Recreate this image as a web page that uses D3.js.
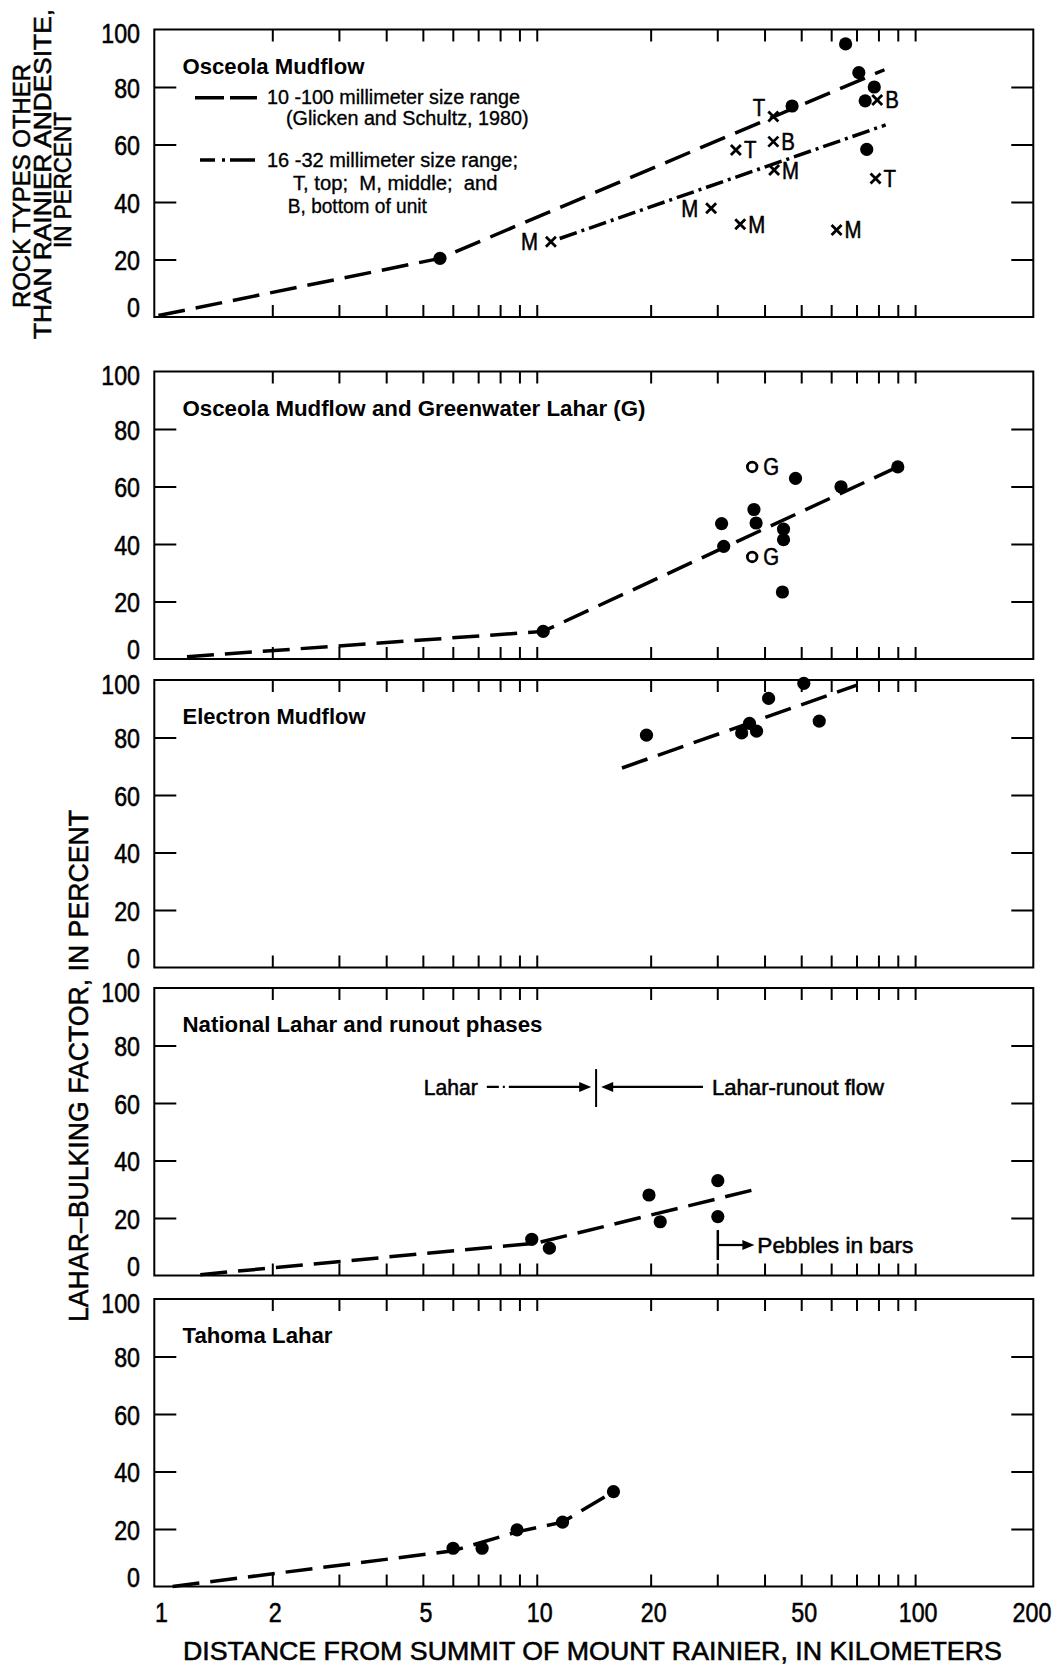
<!DOCTYPE html>
<html><head><meta charset="utf-8">
<script src="https://cdn.jsdelivr.net/npm/d3@7"></script>
<style>
body{margin:0;background:#fff}
svg{display:block}
text{font-family:"Liberation Sans",Arial,Helvetica,sans-serif;fill:#000;white-space:pre}
text.heavy{stroke:#000;stroke-width:0.55px}
</style>
</head><body>
<svg id="chart" width="1062" height="1667"></svg>
<script>
// ---------------- DATA ----------------
const xLabelValues = [1, 2, 5, 10, 20, 50, 100, 200];
const xMinorTickValues = [2,3,4,5,6,7,8,9,10,20,30,40,50,60,70,80,90,100];
const yLabelValues = [0, 20, 40, 60, 80, 100];
const yInnerTickValues = [20, 40, 60, 80];
const panelTitles = ["Osceola Mudflow", "Osceola Mudflow and Greenwater Lahar (G)", "Electron Mudflow", "National Lahar and runout phases", "Tahoma Lahar"];
const xTitle = "DISTANCE FROM SUMMIT OF MOUNT RAINIER, IN KILOMETERS";
const yTitleTop = ["ROCK TYPES OTHER", "THAN RAINIER ANDESITE,", "IN PERCENT"];
const yTitleBottom = "LAHAR\u2013BULKING FACTOR, IN PERCENT";
const legendLabels = ["10 -100 millimeter size range", "(Glicken and Schultz, 1980)", "16 -32 millimeter size range;", "T, top;  M, middle;  and", "B, bottom of unit"];

// Osceola Mudflow: [km, percent]
const osceolaDots = [[5.55,20.4],[65.5,95],[71,85],[78,80],[73.8,75.2],[47.3,73.4],[74.5,58.3]];
// 16-32 mm samples: [km, percent, unit label, label side]
const osceolaCrosses = [[10.9,26.2,"M","l"],[42.2,69.7,"T","ul"],[33.6,58.1,"T","r"],[42.2,61,"B","r"],[42.4,51.1,"M","r"],[28.9,37.8,"M","l"],[34.5,32.3,"M","r"],[62,30.3,"M","r"],[79.4,75.5,"B","r"],[78.6,48.2,"T","r"]];
const osceolaTrend100 = [[1,0.5],[5.55,20.4],[83,86]];
const osceolaTrend32 = [[11.5,27.3],[83.6,66.8]];

// Osceola Mudflow and Greenwater Lahar
const greenwaterDots = [[10.4,9.6],[30.8,47.1],[31.2,39.2],[37.5,52],[38,47.3],[44.9,45.2],[44.9,41.5],[44.6,23.3],[48.3,62.8],[63.7,59.9],[90,66.8]];
const greenwaterOpen = [[37.1,66.8,"G"],[37.1,35.5,"G"]];
const greenwaterTrend = [[1.19,0.8],[10.4,9.6],[90,66.8]];

// Electron Mudflow
const electronDots = [[19.5,80.8],[34.8,81.6],[36.5,84.9],[38.1,82.2],[41,93.6],[50.8,98.8],[55.8,85.7]];
const electronTrend = [[16.8,69.4],[70.5,98.3]];

// National Lahar
const nationalDots = [[9.7,12.6],[10.8,9.5],[19.8,28],[21.2,18.7],[30.1,33],[30.1,20.5]];
const nationalTrend = [[1.29,0.3],[10,11.3],[38.8,30.3]];
const laharArrowKm = [7.38, 13.93];
const runoutArrowKm = [27.5, 14.8];
const phaseDivideKm = 14.35;
const phaseLevel = [65.6, 71.8, 58.6];   // arrow level, divider top, divider bottom
const phaseLabels = ["Lahar", "Lahar-runout flow"];
const pebblesKm = [30.1, 37.6];
const pebblesLevel = [10.6, 15.8, 5.4];  // arrow level, bar top, bar bottom
const pebblesLabel = "Pebbles in bars";

// Tahoma Lahar
const tahomaDots = [[6.01,13.3],[7.17,13.3],[8.87,19.7],[11.7,22.4],[15.95,33]];
const tahomaTrend = [[1.09,0],[6.0,12.4],[8.87,19],[11.7,22.4],[15.95,33]];

// ---------------- LAYOUT ----------------
const frameL = 154.3, frameR = 1033.3;
const tops = [29.5, 371.5, 680, 988, 1299];
const PH = 287.5;
const titleWidths = [182, 463, 183, 360, 150];
const DASH = "27,11", DASHDOT = "18,5,3,5";

const svg = d3.select("#chart");
const x = d3.scaleLog().domain([1, 200]).range([158.4, 1029]);

function fit(sel, w){ sel.attr("textLength", w).attr("lengthAdjust", "spacingAndGlyphs"); return sel; }
function squeeze(sel, f){ sel.each(function(){ const w = this.getComputedTextLength(); this.setAttribute("textLength", w*f); this.setAttribute("lengthAdjust","spacingAndGlyphs"); }); return sel; }

const panels = [
  {dots: osceolaDots, lines: [[osceolaTrend100, DASH], [osceolaTrend32, DASHDOT]], crosses: osceolaCrosses, open: []},
  {dots: greenwaterDots, lines: [[greenwaterTrend, DASH]], crosses: [], open: greenwaterOpen},
  {dots: electronDots, lines: [[electronTrend, DASH]], crosses: [], open: []},
  {dots: nationalDots, lines: [[nationalTrend, DASH]], crosses: [], open: []},
  {dots: tahomaDots, lines: [[tahomaTrend, DASH]], crosses: [], open: []}
];

const yScales = [];
panels.forEach((p, i) => {
  const top = tops[i], bot = top + PH;
  const y = d3.scaleLinear().domain([0, 100]).range([bot, top]);
  yScales.push(y);
  const g = svg.append("g");

  const styleAxis = a => { a.select(".domain").remove(); a.selectAll(".tick line").attr("stroke","#000").attr("stroke-width",2); };
  g.append("g").attr("transform",`translate(0,${bot})`).call(d3.axisBottom(x).tickValues(xMinorTickValues).tickSize(-12).tickFormat("")).call(styleAxis);
  g.append("g").attr("transform",`translate(0,${top})`).call(d3.axisTop(x).tickValues(xMinorTickValues).tickSize(-12).tickFormat("")).call(styleAxis);
  g.append("g").attr("transform",`translate(${frameL},0)`).call(d3.axisLeft(y).tickValues(yInnerTickValues).tickSize(-22).tickFormat("")).call(styleAxis);
  g.append("g").attr("transform",`translate(${frameR},0)`).call(d3.axisRight(y).tickValues(yInnerTickValues).tickSize(-22).tickFormat("")).call(styleAxis);

  g.append("rect").attr("x",frameL).attr("y",top).attr("width",frameR-frameL).attr("height",PH)
    .attr("fill","none").attr("stroke","#000").attr("stroke-width",2);

  g.selectAll("text.ylab").data(yLabelValues).join("text").attr("class","ylab heavy")
    .attr("x", 140).attr("y", v => y(v) + (v === 100 ? 13.5 : v === 0 ? 0 : 10.5))
    .attr("text-anchor","end").attr("font-size",28).text(v => v)
    .call(squeeze, 0.83);

  g.append("text").attr("x",182.5).attr("y",top+44).attr("font-size",22).attr("font-weight","bold")
    .text(panelTitles[i]).call(fit, titleWidths[i]);

  const line = d3.line().x(d => x(d[0])).y(d => y(d[1]));
  p.lines.forEach(([pts, dash]) => {
    g.append("path").attr("d", line(pts)).attr("fill","none").attr("stroke","#000")
      .attr("stroke-width",3.5).attr("stroke-dasharray",dash);
  });

  g.selectAll("circle.dot").data(p.dots).join("circle").attr("class","dot")
    .attr("cx", d => x(d[0])).attr("cy", d => y(d[1])).attr("r", 6.6).attr("fill","#000");

  g.selectAll("circle.open").data(p.open).join("circle").attr("class","open")
    .attr("cx", d => x(d[0])).attr("cy", d => y(d[1])).attr("r", 4.8)
    .attr("fill","#fff").attr("stroke","#000").attr("stroke-width",2.8);
  g.selectAll("text.openlab").data(p.open).join("text").attr("class","openlab heavy")
    .attr("x", d => x(d[0]) + 11).attr("y", d => y(d[1]) + 8.5).attr("font-size",24).text(d => d[2])
    .call(squeeze, 0.85);

  g.selectAll("path.cross").data(p.crosses).join("path").attr("class","cross")
    .attr("transform", d => `translate(${x(d[0])},${y(d[1])})`)
    .attr("d","M-5,-5L5,5M-5,5L5,-5").attr("stroke","#000").attr("stroke-width",2.8).attr("fill","none");
  g.selectAll("text.crosslab").data(p.crosses).join("text").attr("class","crosslab heavy")
    .attr("x", d => d[3] === "r" ? x(d[0]) + 8 : d[3] === "l" ? x(d[0]) - 13 : x(d[0]) - 8)
    .attr("y", d => d[3] === "ul" ? y(d[1]) - 1 : y(d[1]) + 8.5)
    .attr("text-anchor", d => d[3] === "r" ? "start" : "end")
    .attr("font-size",24).text(d => d[2]).call(squeeze, 0.85);
});

// ---------- legend (panel 1) ----------
const lg = svg.append("g");
lg.append("line").attr("x1",195).attr("x2",257).attr("y1",97.7).attr("y2",97.7)
  .attr("stroke","#000").attr("stroke-width",3.5).attr("stroke-dasharray","29,6");
lg.append("line").attr("x1",200).attr("x2",255).attr("y1",160).attr("y2",160)
  .attr("stroke","#000").attr("stroke-width",3.5).attr("stroke-dasharray","15,7,3,5,26,100");
const legPos = [[267,104,253],[286,124.5,242.5],[267,167,251],[293,190,204.6],[287.8,212.5,139]];
legendLabels.forEach((t, k) => {
  lg.append("text").attr("class","heavy").attr("x",legPos[k][0]).attr("y",legPos[k][1]).attr("font-size",20)
    .style("stroke-width","0.35px").text(t).call(fit, legPos[k][2]);
});

// ---------- National Lahar annotations ----------
const y4 = yScales[3];
const ann = svg.append("g");
function arrowHead(g, xt, yt, dir){
  g.append("path").attr("d", `M${xt},${yt}L${xt-dir*12},${yt-5}L${xt-dir*12},${yt+5}Z`).attr("fill","#000");
}
ann.append("line").attr("x1",x(laharArrowKm[0])).attr("x2",x(laharArrowKm[1])-8).attr("y1",y4(phaseLevel[0])).attr("y2",y4(phaseLevel[0]))
  .attr("stroke","#000").attr("stroke-width",2.2).attr("stroke-dasharray","12,4,2,4,200");
arrowHead(ann, x(laharArrowKm[1]), y4(phaseLevel[0]), 1);
ann.append("line").attr("x1",x(runoutArrowKm[0])).attr("x2",x(runoutArrowKm[1])+8).attr("y1",y4(phaseLevel[0])).attr("y2",y4(phaseLevel[0]))
  .attr("stroke","#000").attr("stroke-width",2.2);
arrowHead(ann, x(runoutArrowKm[1]), y4(phaseLevel[0]), -1);
ann.append("line").attr("x1",x(phaseDivideKm)).attr("x2",x(phaseDivideKm)).attr("y1",y4(phaseLevel[1])).attr("y2",y4(phaseLevel[2]))
  .attr("stroke","#000").attr("stroke-width",2);
ann.append("text").attr("class","heavy").attr("x",x(laharArrowKm[0])-9).attr("y",y4(phaseLevel[0])+8).attr("text-anchor","end")
  .attr("font-size",22).text(phaseLabels[0]).call(fit, 54);
ann.append("text").attr("class","heavy").attr("x",x(runoutArrowKm[0])+9).attr("y",y4(phaseLevel[0])+8)
  .attr("font-size",22).text(phaseLabels[1]).call(fit, 172);
ann.append("line").attr("x1",x(pebblesKm[0])).attr("x2",x(pebblesKm[0])).attr("y1",y4(pebblesLevel[1])).attr("y2",y4(pebblesLevel[2]))
  .attr("stroke","#000").attr("stroke-width",2.5);
ann.append("line").attr("x1",x(pebblesKm[0])).attr("x2",x(pebblesKm[1])-8).attr("y1",y4(pebblesLevel[0])).attr("y2",y4(pebblesLevel[0]))
  .attr("stroke","#000").attr("stroke-width",2.2);
arrowHead(ann, x(pebblesKm[1]), y4(pebblesLevel[0]), 1);
ann.append("text").attr("class","heavy").attr("x",x(pebblesKm[1])+3).attr("y",y4(pebblesLevel[0])+8)
  .attr("font-size",22).text(pebblesLabel).call(fit, 156);

// ---------- x axis labels & titles ----------
const bottomY = tops[4] + PH;
svg.append("g").selectAll("text").data(xLabelValues).join("text").attr("class","heavy")
  .attr("x", v => x(v) + 3).attr("y", bottomY + 35).attr("text-anchor","middle")
  .attr("font-size",28).text(v => v).call(squeeze, 0.83);

svg.append("text").attr("class","heavy").attr("x",592.4).attr("y",1660).attr("text-anchor","middle").attr("font-size",25.5)
  .text(xTitle).call(fit, 819);

const yCenters = [186, 174, 180], yBase = [30, 51, 71], yLens = [244, 330, 136];
yTitleTop.forEach((t, k) => {
  svg.append("text").attr("class","heavy").attr("transform",`translate(${yBase[k]},${yCenters[k]}) rotate(-90)`)
    .attr("text-anchor","middle").attr("font-size",24).text(t).call(fit, yLens[k]);
});
svg.append("text").attr("class","heavy").attr("transform",`translate(88,1066) rotate(-90)`)
  .attr("text-anchor","middle").attr("font-size",27).text(yTitleBottom).call(fit, 512);
</script>
</body></html>
